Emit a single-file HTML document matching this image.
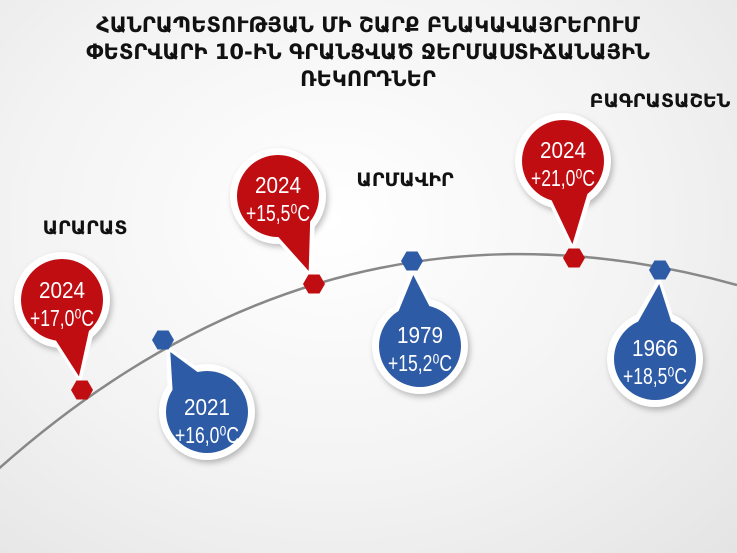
<!DOCTYPE html>
<html><head><meta charset="utf-8"><style>
html,body{margin:0;padding:0;}
body{width:737px;height:553px;overflow:hidden;background:radial-gradient(ellipse at 45% 40%,#ffffff 0%,#f3f3f3 55%,#e4e4e4 100%);}
svg{display:block}
.t{font-family:"DejaVu Sans","Liberation Sans",sans-serif;font-weight:bold;fill:#111;text-anchor:middle;}
.n{font-family:"Liberation Sans",sans-serif;fill:#fff;text-anchor:middle;font-size:23px;}
</style></head><body>
<svg id="s" width="737" height="553" viewBox="0 0 737 553">
<g id="shapes"></g>
<path d="M-5,472 Q330,172 737,285" fill="none" stroke="#888" stroke-width="2.5"/>
<g id="hex"></g>
<text class="t" x="368" y="32" font-size="21">ՀԱՆՐԱՊԵՏՈՒԹՅԱՆ ՄԻ ՇԱՐՔ ԲՆԱԿԱՎԱՅՐԵՐՈՒՄ</text>
<text class="t" x="368" y="59" font-size="21">ՓԵՏՐՎԱՐԻ 10-ԻՆ ԳՐԱՆՑՎԱԾ ՋԵՐՄԱՍՏԻՃԱՆԱՅԻՆ</text>
<text class="t" x="368" y="86" font-size="21">ՌԵԿՈՐԴՆԵՐ</text>
<text class="t" x="85" y="234" font-size="19">ԱՐԱՐԱՏ</text>
<text class="t" x="405" y="186" font-size="19">ԱՐՄԱՎԻՐ</text>
<text class="t" x="660" y="107" font-size="19">ԲԱԳՐԱՏԱՇԵՆ</text>
<text class="n" x="62" y="298" textLength="46" lengthAdjust="spacingAndGlyphs">2024</text><text class="n" x="62" y="326" textLength="64" lengthAdjust="spacingAndGlyphs">+17,0⁰C</text>
<text class="n" x="207" y="415" textLength="46" lengthAdjust="spacingAndGlyphs">2021</text><text class="n" x="207" y="443" textLength="64" lengthAdjust="spacingAndGlyphs">+16,0⁰C</text>
<text class="n" x="278" y="193" textLength="46" lengthAdjust="spacingAndGlyphs">2024</text><text class="n" x="278" y="221" textLength="64" lengthAdjust="spacingAndGlyphs">+15,5⁰C</text>
<text class="n" x="420" y="343" textLength="46" lengthAdjust="spacingAndGlyphs">1979</text><text class="n" x="420" y="371" textLength="64" lengthAdjust="spacingAndGlyphs">+15,2⁰C</text>
<text class="n" x="563" y="158" textLength="46" lengthAdjust="spacingAndGlyphs">2024</text><text class="n" x="563" y="186" textLength="64" lengthAdjust="spacingAndGlyphs">+21,0⁰C</text>
<text class="n" x="655" y="356" textLength="46" lengthAdjust="spacingAndGlyphs">1966</text><text class="n" x="655" y="384" textLength="64" lengthAdjust="spacingAndGlyphs">+18,5⁰C</text>
</svg>
<script>
var R="#c00d12",B="#2e5ba6";
var b=[[62,300,82,390,R],[207,412,163,340,B],[278,196,314,284,R],[420,346,412,261,B],[563,161,574,258,R],[655,359,660,270,B]];
var sh="",hx="";
function tail(cx,cy,tx,ty,r,shrink){var dx=tx-cx,dy=ty-cy,L=Math.hypot(dx,dy);dx/=L;dy/=L;var px=-dy,py=dx;
var ex=tx-dx*shrink,ey=ty-dy*shrink;
var a1=[cx+px*r*0.7,cy+py*r*0.7],a2=[cx-px*r*0.7+dx*r*0.4,cy-py*r*0.7+dy*r*0.4];
return a1.join(",")+" "+a2.join(",")+" "+ex+","+ey;}
b.forEach(function(q){
sh+='<circle cx="'+q[0]+'" cy="'+q[1]+'" r="48" fill="#fff" style="filter:drop-shadow(2px 3px 3px rgba(0,0,0,.25))"/>';
sh+='<polygon points="'+tail(q[0],q[1],q[2],q[3],48,6)+'" fill="#fff"/>';
sh+='<circle cx="'+q[0]+'" cy="'+q[1]+'" r="41" fill="'+q[4]+'"/>';
sh+='<polygon points="'+tail(q[0],q[1],q[2],q[3],41,14)+'" fill="'+q[4]+'"/>';
var p=[];for(var i=0;i<6;i++){var a=Math.PI/3*i;p.push((q[2]+11*Math.cos(a)).toFixed(1)+","+(q[3]+11*Math.sin(a)).toFixed(1));}
hx+='<polygon points="'+p.join(" ")+'" fill="'+q[4]+'"/>';
});
document.getElementById("shapes").innerHTML=sh;document.getElementById("hex").innerHTML=hx;
</script>
</body></html>
